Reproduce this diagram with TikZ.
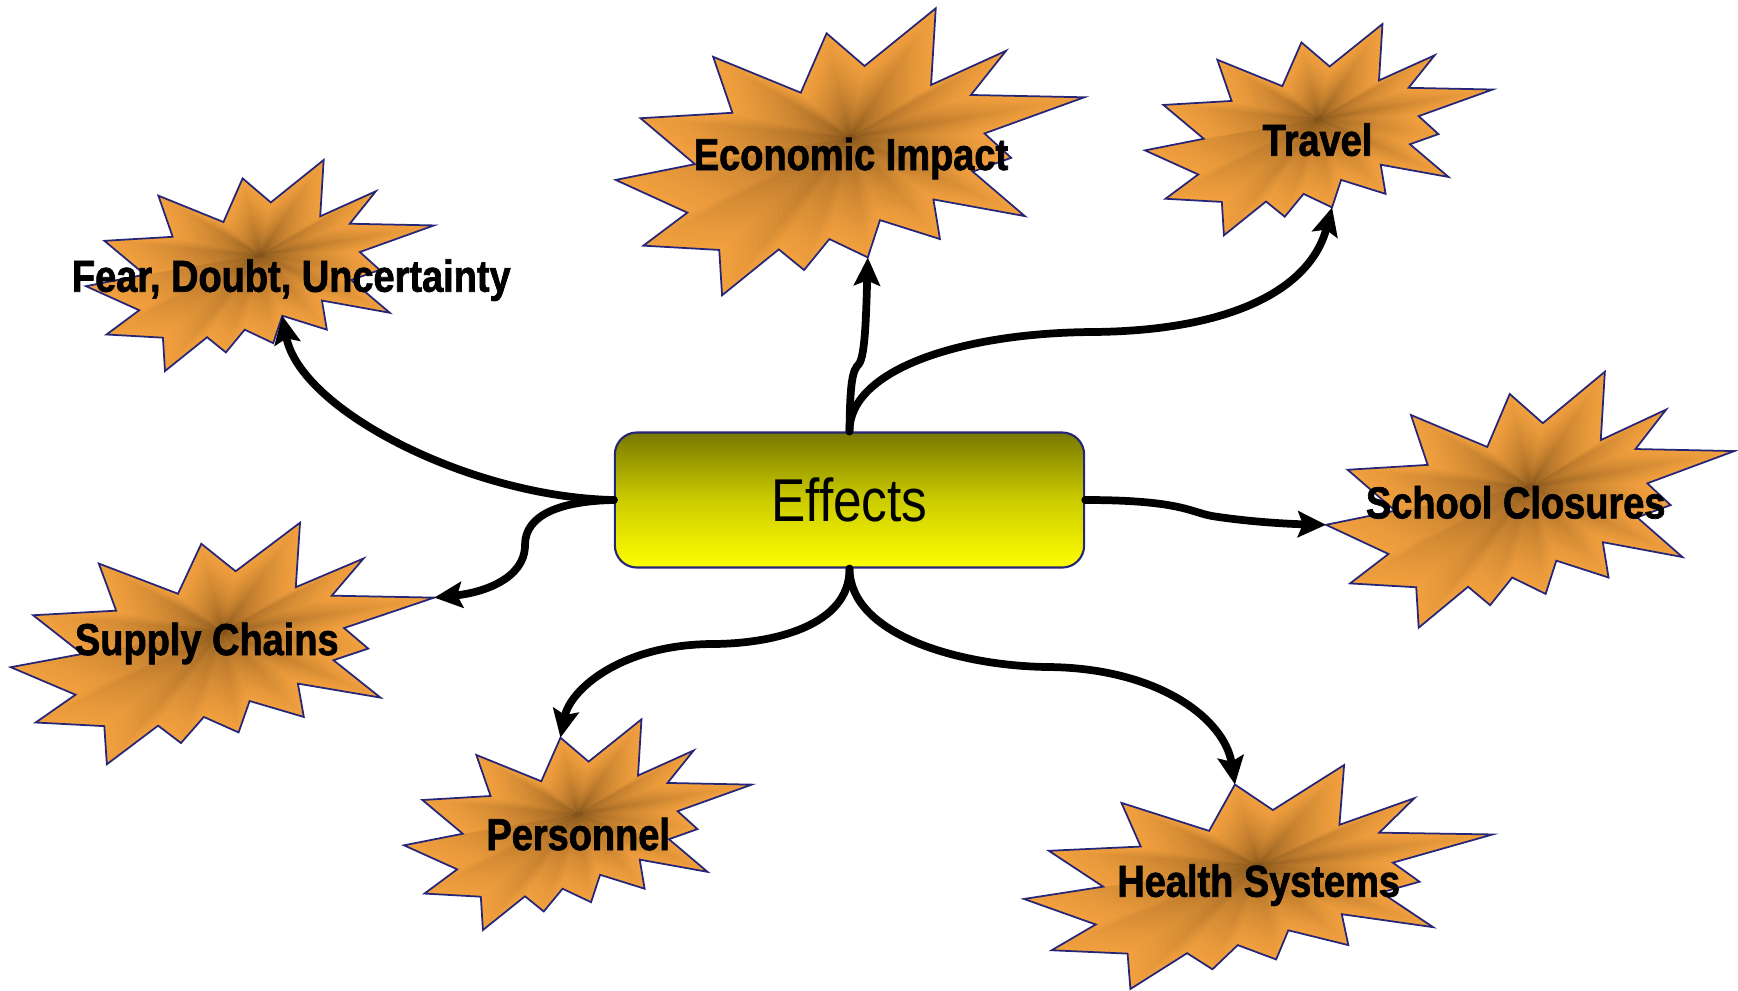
\documentclass[tikz,border=0pt]{standalone}
\usepackage{fontspec}
\usepackage{xcolor}
\usepackage{tikz}
\usetikzlibrary{arrows.meta,positioning,calc}

\newfontfamily\burstfont[FakeStretch=0.85]{Liberation Sans}
\newfontfamily\burstboldfont[FakeStretch=0.85,FakeBold=1.6]{Liberation Sans}

\definecolor{burstedge}{RGB}{242,160,62}
\definecolor{burstcore}{RGB}{95,58,14}
\definecolor{burstline}{RGB}{38,38,120}
\definecolor{boxtop}{RGB}{120,120,0}
\definecolor{boxbottom}{RGB}{255,255,0}

\tikzset{
  connector/.style={line width=2.2pt, line cap=round,
    -{Stealth[length=0.28cm,width=0.26cm,inset=0.05cm]}},
  burstborder/.style={draw=burstline, line width=0.5pt},
  bursttext/.style={font=\burstboldfont\bfseries\fontsize{12.7}{14}\selectfont, anchor=base},
  effectsbox/.style={draw=burstline, line width=0.6pt, rounded corners=0.22cm,
    top color=boxtop, bottom color=boxbottom, middle color=boxbottom!62!boxtop,
    minimum width=4.69cm, minimum height=1.35cm,
    font=\burstfont\fontsize{17.2}{19}\selectfont}
}

% corners of the burst, in a unit box (x to the right, y down)
\newcommand{\burstpts}{0.683/0, 0.673/0.267, 0.833/0.148, 0.758/0.302, 1/0.310,
  0.787/0.436, 0.844/0.521, 0.762/0.569, 0.873/0.724, 0.678/0.666, 0.692/0.804,
  0.564/0.738, 0.538/0.868, 0.456/0.804, 0.402/0.912, 0.348/0.840, 0.227/1,
  0.221/0.842, 0.059/0.827, 0.153/0.712, 0/0.598, 0.169/0.543, 0.053/0.383,
  0.249/0.364, 0.208/0.169, 0.395/0.294, 0.450/0.087, 0.531/0.201}

% #1 name, #2 left, #3 top, #4 width, #5 height
\newcommand{\burst}[5]{%
  \foreach \u/\v [count=\i] in \burstpts
    \coordinate (#1-\i) at ({#2+\u*#4},{#3+\v*#5});
  \coordinate (#1-c) at ({#2+0.5*#4},{#3+0.45*#5});
  % path gradient: shrinking copies, darker to the middle
  \foreach \k in {0,...,24}{
    \pgfmathsetmacro\lay{1-\k/25}
    \pgfmathtruncatemacro\pct{100*(\lay)^0.4}
    \fill[burstedge!\pct!burstcore] ($(#1-c)!\lay!(#1-1)$)
      \foreach \i in {2,...,28}{ -- ($(#1-c)!\lay!(#1-\i)$)} -- cycle;
  }
  \draw[burstborder] (#1-1) \foreach \i in {2,...,28}{ -- (#1-\i)} -- cycle;
}

\begin{document}
\begin{tikzpicture}[x=0.01cm, y=-0.01cm]
    \useasboundingbox (0,0) rectangle (1738,990);

    % Bursts
    \burst{econstar}{615.7}{8.3}{468.6}{287}
    \burst{travelstar}{1145}{24}{347.7}{211.3}
    \burst{fearstar}{86}{160}{348}{211}
    \burst{schoolstar}{1326}{371.7}{408.3}{256}
    \burst{supplystar}{10.7}{522.7}{423.6}{241.6}
    \burst{personnelstar}{404}{719.3}{347.7}{210.7}
    \burst{healthstar}{1024}{765}{468.7}{224}

    % Centre box
    \node[effectsbox] (effects) at (849.5,500) {Effects};

    % Connectors
    \draw[connector] (effects.north) .. controls (850,385) and (852,370) .. (859,364)
        .. controls (865,355) and (866,320) .. (econstar-13);
    \draw[connector] (effects.north) .. controls (849,370) and (960,333) .. (1092,332)
        .. controls (1230,331) and (1310,290) .. (travelstar-13);
    \draw[connector] (effects.west) .. controls (470,497) and (300,410) .. (fearstar-12);
    \draw[connector] (effects.west) .. controls (560,501) and (525,515) .. (525,545)
        .. controls (525,580) and (480,593) .. (supplystar-5);
    \draw[connector] (effects.east) .. controls (1180,500) and (1190,512) .. (1212,516)
        .. controls (1250,522) and (1290,524) .. (schoolstar-21);
    \draw[connector] (effects.south) .. controls (850,625) and (775,644) .. (711,644)
        .. controls (620,645) and (570,690) .. (personnelstar-27);
    \draw[connector] (effects.south) .. controls (850,635) and (960,666) .. (1048,667)
        .. controls (1160,668) and (1225,720) .. (healthstar-27);

    % Labels
    \node[bursttext] (econ) at (851,170) {Economic Impact};
    \node[bursttext] (travel) at (1317.5,155.7) {Travel};
    \node[bursttext] (fear) at (291.3,291.7) {Fear, Doubt, Uncertainty};
    \node[bursttext] (school) at (1515.7,518.3) {School Closures};
    \node[bursttext] (supply) at (206.8,655) {Supply Chains};
    \node[bursttext] (personnel) at (578.2,850) {Personnel};
    \node[bursttext] (health) at (1258.7,896.7) {Health Systems};
\end{tikzpicture}
\end{document}
